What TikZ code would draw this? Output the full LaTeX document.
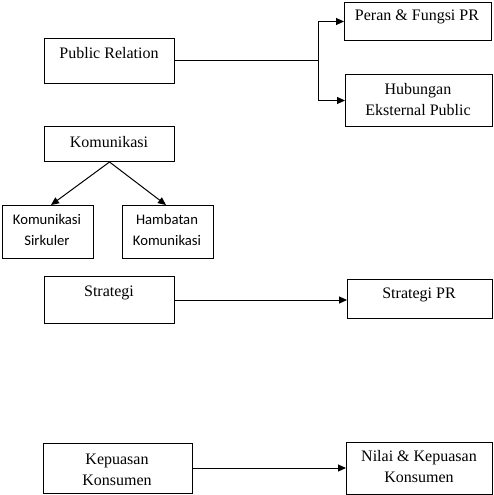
\documentclass[tikz,border=0pt]{standalone}
\usepackage{fontspec}
\setmainfont{Liberation Serif}
\newfontfamily\calfont{Carlito}
\usetikzlibrary{arrows.meta}
\begin{document}
\begin{tikzpicture}[x=1pt,y=-1pt,
  box/.style={draw,line width=1pt,inner sep=0pt,anchor=north west},
  txt/.style={inner sep=0pt,align=center,font=\fontsize{16}{21}\selectfont},
  stxt/.style={inner sep=0pt,align=center,font=\calfont\fontsize{14.67}{21}\selectfont},
  conn/.style={line width=1pt},
  arr/.style={line width=1pt,-{Triangle[length=8pt,width=7pt]}}]
\useasboundingbox (0,0) rectangle (494,495);
% boxes
\node[box,minimum width=130pt,minimum height=45pt] (pr) at (44,38) {};
\node[box,minimum width=147pt,minimum height=38pt] (peran) at (344,2) {};
\node[box,minimum width=147pt,minimum height=52pt] (hub) at (345,74) {};
\node[box,minimum width=130pt,minimum height=35pt] (kom) at (44,126) {};
\node[box,minimum width=91pt,minimum height=53pt] (sirk) at (2,205) {};
\node[box,minimum width=91pt,minimum height=53pt] (hamb) at (122,205) {};
\node[box,minimum width=130pt,minimum height=47pt] (strat) at (44,276) {};
\node[box,minimum width=145pt,minimum height=39pt] (stratpr) at (347,279) {};
\node[box,minimum width=149pt,minimum height=50pt] (kep) at (43,443) {};
\node[box,minimum width=146pt,minimum height=52pt] (nilai) at (346,442) {};
% texts
\node[txt] (tpr) at (109,53) {Public Relation};
\node[txt] (tperan) at (417,17) {Peran \& Fungsi PR};
\node[txt] (thub) at (418,100) {Hubungan\\Eksternal Public};
\node[txt] (tkom) at (109,142) {Komunikasi};
\node[stxt] (tsirk) at (47,230) {Komunikasi\\Sirkuler};
\node[stxt] (thamb) at (167,230) {Hambatan\\Komunikasi};
\node[txt] (tstrat) at (109,293) {Strategi};
\node[txt] (tstratpr) at (419,295) {Strategi PR};
\node[txt] (tkep) at (117,470) {Kepuasan\\Konsumen};
\node[txt] (tnilai) at (419,467) {Nilai \& Kepuasan\\Konsumen};
% connectors
\coordinate (split) at (318,61);
\draw[conn] (pr.east |- split) -- (split);
\draw[arr] (split) |- (peran.west);
\draw[arr] (split) |- (hub.west);
\draw[arr] (kom.south) -- ([xshift=3pt]sirk.north);
\draw[arr] (kom.south) -- ([xshift=-2pt]hamb.north);
\draw[arr] (strat.east) -- (stratpr.west |- strat.east);
\coordinate (kstart) at (193,468);
\draw[arr] (kstart) -- (nilai.west |- kstart);
\end{tikzpicture}
\end{document}
